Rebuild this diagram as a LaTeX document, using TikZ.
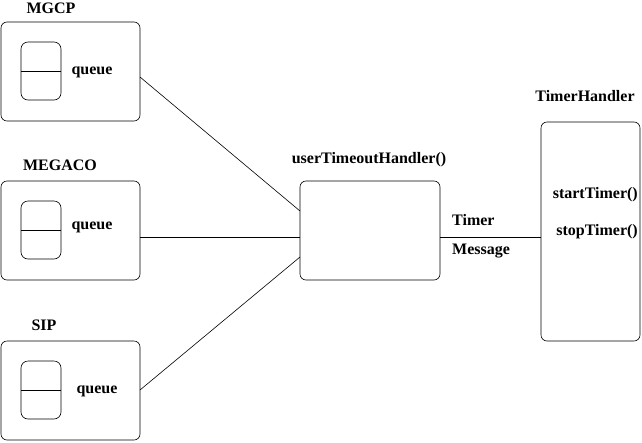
\documentclass[tikz,border=0pt]{standalone}
\usepackage{fontspec}
\setmainfont{Liberation Serif}[BoldFont={Liberation Serif Bold}]
\begin{document}
\begin{tikzpicture}[x=1pt,y=-1pt,
  box/.style={draw,rounded corners=6pt,line width=0.6pt},
  qbox/.style={draw,rounded corners=7pt,line width=0.6pt},
  lbl/.style={font=\rmfamily\fontsize{16}{18}\selectfont\bfseries,inner sep=0pt},
  conn/.style={line width=0.6pt}]
\useasboundingbox (0,0) rectangle (642,442);
% MGCP
\draw[box] (1,22) rectangle (140,121);
\draw[qbox] (21,42) rectangle (61,100);
\draw[conn] (21,71) -- (61,71);
\node[lbl] (mgcp) at (51,8) {MGCP};
\node[lbl] (q1) at (92,72) {queue};
\coordinate (m1) at (140,77);
% MEGACO
\draw[box] (1,181) rectangle (140,280);
\draw[qbox] (21,201) rectangle (61,259);
\draw[conn] (21,230) -- (61,230);
\node[lbl] (megaco) at (60,165) {MEGACO};
\node[lbl] (q2) at (92,227) {queue};
\coordinate (m2) at (140,237);
% SIP
\draw[box] (1,341) rectangle (140,440);
\draw[qbox] (21,361) rectangle (61,419);
\draw[conn] (21,390) -- (61,390);
\node[lbl] (sip) at (44,325) {SIP};
\node[lbl] (q3) at (97,391) {queue};
\coordinate (m3) at (140,390);
% center
\draw[box] (300,181) rectangle (440,280);
\node[lbl] (uth) at (369,160) {userTimeoutHandler()};
\coordinate (c1) at (300,211);
\coordinate (c2) at (300,237);
\coordinate (c3) at (300,257);
\coordinate (c4) at (440,237);
% timer handler
\draw[box] (541,122) rectangle (640,341);
\node[lbl] (th) at (585,96) {TimerHandler};
\node[lbl,anchor=east] (st) at (638,195) {startTimer()};
\node[lbl,anchor=east] (sp) at (638,232) {stopTimer()};
\coordinate (t1) at (541,237);
% connectors
\draw[conn] (m1) -- (c1);
\draw[conn] (m2) -- (c2);
\draw[conn] (m3) -- (c3);
\draw[conn] (c4) -- (t1);
\node[lbl,anchor=west] (tm) at (452,220) {Timer};
\node[lbl,anchor=west] (ms) at (452,251) {Message};
\end{tikzpicture}
\end{document}
